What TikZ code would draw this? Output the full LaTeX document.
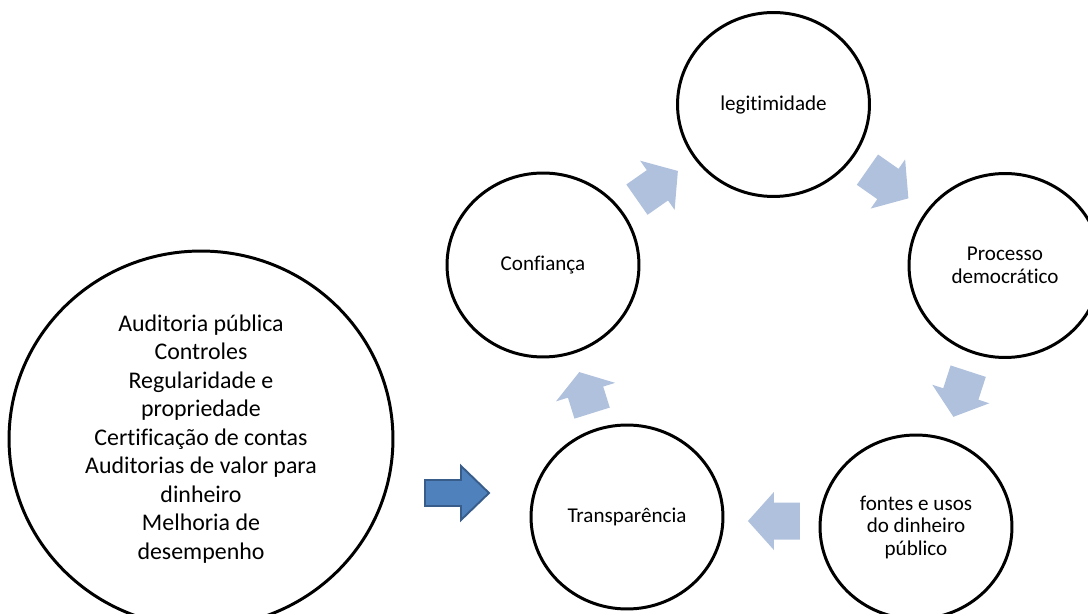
\documentclass[tikz,border=0pt]{standalone}
\usepackage{fontspec}
\setmainfont{Carlito}[Ligatures={NoCommon}]
\usetikzlibrary{shapes.geometric}
\definecolor{arrowlight}{HTML}{B0C1DD}
\definecolor{arrowdark}{HTML}{4F81BD}
\definecolor{arrowdarkline}{HTML}{385D8A}
\tikzset{
  circ/.style={ellipse, draw=black, line width=1.7pt, minimum width=3.84cm,
    minimum height=3.68cm, inner sep=0pt, align=center,
    font=\fontsize{12}{12.8}\selectfont},
  bigcirc/.style={ellipse, draw=black, line width=1.7pt, minimum width=7.68cm,
    minimum height=7.52cm, inner sep=0pt, align=center,
    font=\fontsize{13.6}{16.2}\selectfont},
  lightarrow/.style={fill=arrowlight},
  darkarrow/.style={fill=arrowdark, draw=arrowdarkline, line width=1.1pt, line join=miter},
}
% #1 style, #2 x, #3 y, #4 angle, #5 length, #6 head length, #7 head half width, #8 shaft half width
\newcommand\blockarrow[8]{%
  \begin{scope}[shift={(#2,#3)}, rotate=#4]
    \path[#1] (-#5/2,-#8) -- (#5/2-#6,-#8) -- (#5/2-#6,-#7) -- (#5/2,0)
      -- (#5/2-#6,#7) -- (#5/2-#6,#8) -- (-#5/2,#8) -- cycle;
  \end{scope}}
\begin{document}
\begin{tikzpicture}[x=0.02cm, y=-0.02cm]
  \useasboundingbox (0,0) rectangle (1088,614);
  \clip (0,0) rectangle (1088,614);

  \node[bigcirc] (audit) at (201,439) {Auditoria pública\\Controles\\Regularidade e\\propriedade\\Certificação de contas\\Auditorias de valor para\\dinheiro\\Melhoria de\\desempenho};

  \node[circ] (conf) at (543,265) {Confiança};
  \node[circ] (legit) at (773.5,104.5) {legitimidade};
  \node[circ] (proc) at (1005,265.5) {Processo\\democrático};
  \node[circ] (fontes) at (916,527) {fontes e usos\\do dinheiro\\público};
  \node[circ] (transp) at (627,517) {Transparência};

  \blockarrow{lightarrow}{657.4}{185.3}{35}{50}{25}{30}{18.5}
  \blockarrow{lightarrow}{887.9}{184}{-35}{50}{25}{30}{18.5}
  \blockarrow{lightarrow}{960.8}{394}{-108}{48}{24}{30}{18.5}
  \blockarrow{lightarrow}{773.9}{521}{180}{52}{26}{29}{18.5}
  \blockarrow{lightarrow}{585.7}{392.6}{107.4}{43}{21}{31}{18.5}

  \blockarrow{darkarrow}{457}{493}{0}{64}{28}{27}{13}
\end{tikzpicture}
\end{document}
